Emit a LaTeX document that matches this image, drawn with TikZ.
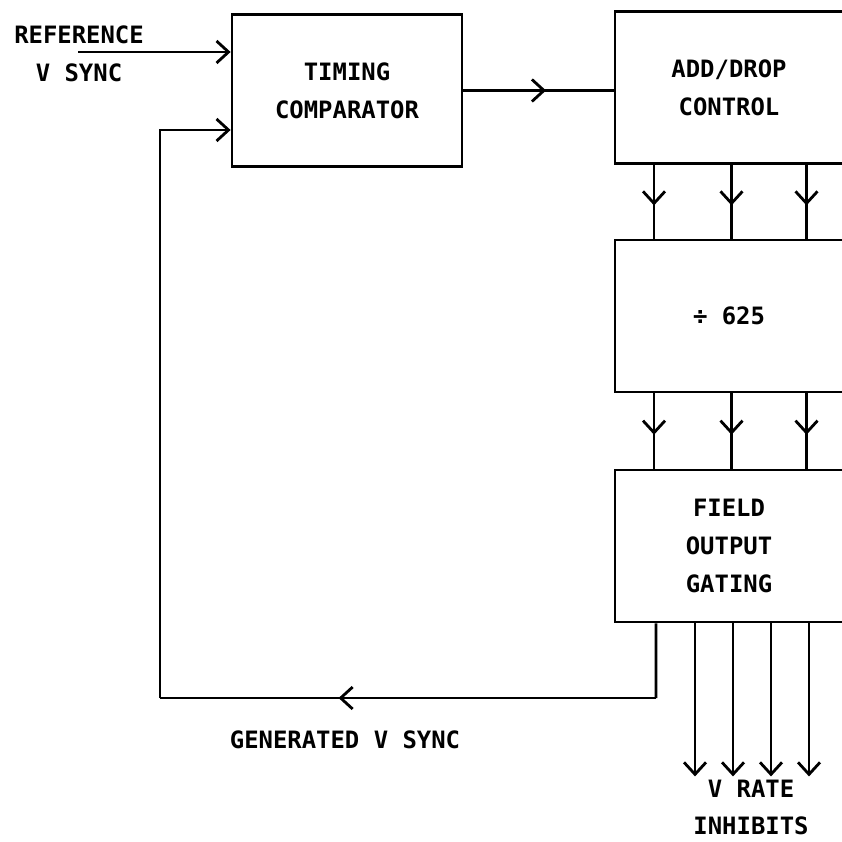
\documentclass[tikz,border=0pt]{standalone}
\usepackage{fontspec}
\setmonofont{DejaVu Sans Mono}
\usetikzlibrary{arrows.meta,decorations.markings}

\newcommand{\blocklbl}{\fontsize{13.6}{21.5}\selectfont\ttfamily\bfseries}

\begin{document}
\begin{tikzpicture}[
      box/.style={draw, line width=1.6pt, minimum height=3.04cm,
                  align=center, font=\blocklbl},
      txt/.style={align=center, font=\blocklbl, inner sep=1pt},
      line/.style={line width=1.6pt},
      arr/.style={line, -{Straight Barb[length=2.4mm,width=4.4mm]}},
      mid/.style={line, postaction={decorate}, decoration={markings,
                  mark=at position #1 with {\arrow{Straight Barb[length=2.4mm,width=4.4mm]}}}}
    ]
      \useasboundingbox (0,0) rectangle (16.82,-16.84);

      % Timing comparator
      \node[box, minimum width=4.6cm] (tc) at (6.94,-1.81)
        {TIMING\\COMPARATOR};
      % Add/drop control
      \node[box, minimum width=4.56cm] (adc) at (14.58,-1.75)
        {ADD/DROP\\CONTROL};
      % Divider
      \node[box, minimum width=4.56cm] (div) at (14.58,-6.32)
        {÷ 625};
      % Field output gating
      \node[box, minimum width=4.56cm] (fog) at (14.58,-10.92)
        {FIELD\\OUTPUT\\GATING};

      % Labels
      \node[txt] (refl) at (1.58,-1.08) {REFERENCE\\V SYNC};
      \node[txt] (genl) at (6.9,-14.8) {GENERATED V SYNC};
      \node[txt] (vrl) at (15.02,-16.15) {V RATE\\INHIBITS};

      \coordinate (ref) at (1.56,-1.04);
      \coordinate (turn) at (13.12,-13.96);
      \coordinate (fb) at (3.2,-13.96);

      \draw[arr] (ref) -- (tc.west |- ref);
      \draw[mid=0.55] (tc.east) -- (adc.west |- tc.east);

      \foreach \dx in {-1.5,0.05,1.55} {
        \draw[mid=0.55] ([xshift=\dx cm]adc.south) -- ([xshift=\dx cm]div.north);
        \draw[mid=0.55] ([xshift=\dx cm]div.south) -- ([xshift=\dx cm]fog.north);
      }

      \foreach \dx in {-0.68,0.08,0.84,1.6}
        \draw[arr] ([xshift=\dx cm]fog.south) -- ++(0,-3.06);

      % Feedback loop
      \draw[line] ([xshift=-1.46cm]fog.south) -- (turn);
      \draw[mid=0.64] (turn) -- (fb);
      \draw[arr] (fb) |- (tc.west |- 0,-2.6);
    \end{tikzpicture}
\end{document}
